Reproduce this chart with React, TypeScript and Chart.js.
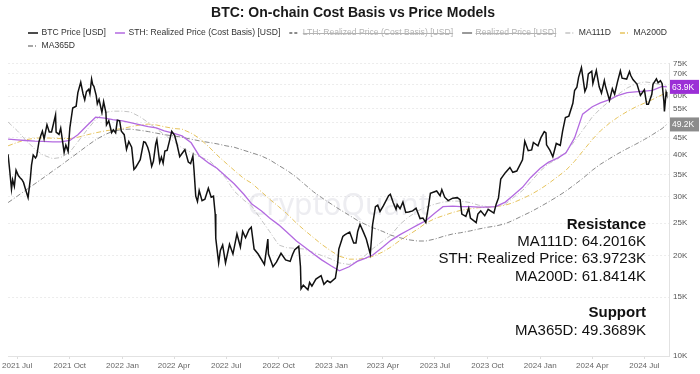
import { useEffect, useRef } from 'react';
import { Chart, registerables } from 'chart.js';

Chart.register(...registerables);

const FONT = '"Liberation Sans", Arial, Helvetica, sans-serif';
const TITLE = 'BTC: On-chain Cost Basis vs Price Models';
const WATERMARK = 'CryptoQuant';

// ---- BTC price (thousand USD) ----
const priceDates = [
  '2021-06-15','2021-06-18','2021-06-21','2021-06-23','2021-06-26','2021-06-29',
  '2021-07-03','2021-07-06','2021-07-09','2021-07-12','2021-07-15','2021-07-20','2021-07-24','2021-07-26','2021-07-29',
  '2021-08-02','2021-08-04','2021-08-08','2021-08-11','2021-08-14','2021-08-17','2021-08-22','2021-08-26','2021-08-30',
  '2021-09-06','2021-09-07','2021-09-12','2021-09-15','2021-09-21','2021-09-24','2021-09-28',
  '2021-10-01','2021-10-06','2021-10-12','2021-10-15','2021-10-20','2021-10-24','2021-10-27','2021-10-30',
  '2021-11-03','2021-11-05','2021-11-08','2021-11-10','2021-11-12','2021-11-16','2021-11-18','2021-11-21','2021-11-26','2021-11-29',
  '2021-12-03','2021-12-04','2021-12-08','2021-12-13','2021-12-16','2021-12-20','2021-12-23','2021-12-27','2021-12-30',
  '2022-01-04','2022-01-08','2022-01-12','2022-01-17','2022-01-21','2022-01-24','2022-01-28',
  '2022-02-01','2022-02-07','2022-02-10','2022-02-14','2022-02-17','2022-02-21','2022-02-24','2022-02-28',
  '2022-03-02','2022-03-07','2022-03-10','2022-03-13','2022-03-16','2022-03-20','2022-03-24','2022-03-28',
  '2022-04-02','2022-04-06','2022-04-11','2022-04-16','2022-04-20','2022-04-26','2022-04-30',
  '2022-05-04','2022-05-06','2022-05-09','2022-05-12','2022-05-15','2022-05-20','2022-05-25','2022-05-31',
  '2022-06-05','2022-06-09','2022-06-12','2022-06-13','2022-06-18','2022-06-21','2022-06-25','2022-06-30',
  '2022-07-07','2022-07-13','2022-07-20','2022-07-26','2022-07-30',
  '2022-08-04','2022-08-10','2022-08-14','2022-08-19','2022-08-26',
  '2022-09-06','2022-09-12','2022-09-13','2022-09-21','2022-09-27',
  '2022-10-05','2022-10-13','2022-10-21','2022-10-25','2022-10-29',
  '2022-11-05','2022-11-08','2022-11-09','2022-11-13','2022-11-21','2022-11-24','2022-11-28',
  '2022-12-05','2022-12-14','2022-12-19','2022-12-25','2022-12-30',
  '2023-01-08','2023-01-12','2023-01-14','2023-01-21','2023-01-25',
  '2023-02-02','2023-02-09','2023-02-13','2023-02-16','2023-02-20','2023-02-26',
  '2023-03-03','2023-03-10','2023-03-14','2023-03-19','2023-03-23','2023-03-27',
  '2023-04-02','2023-04-11','2023-04-14','2023-04-19','2023-04-24','2023-04-26',
  '2023-05-01','2023-05-06','2023-05-11','2023-05-16','2023-05-23','2023-05-29',
  '2023-06-05','2023-06-10','2023-06-15','2023-06-20','2023-06-23',
  '2023-07-04','2023-07-10','2023-07-13','2023-07-18','2023-07-24',
  '2023-08-01','2023-08-09','2023-08-14','2023-08-17','2023-08-24','2023-08-29',
  '2023-09-01','2023-09-11','2023-09-14','2023-09-19','2023-09-26',
  '2023-10-02','2023-10-12','2023-10-16','2023-10-20','2023-10-24',
  '2023-11-01','2023-11-09','2023-11-14','2023-11-21',
  '2023-12-01','2023-12-05','2023-12-11','2023-12-17','2023-12-20','2023-12-28',
  '2024-01-02','2024-01-08','2024-01-11','2024-01-12','2024-01-18','2024-01-23','2024-01-29',
  '2024-02-05','2024-02-09','2024-02-14','2024-02-20','2024-02-27',
  '2024-03-01','2024-03-05','2024-03-08','2024-03-13','2024-03-19','2024-03-22','2024-03-25','2024-03-31',
  '2024-04-02','2024-04-08','2024-04-13','2024-04-17','2024-04-22','2024-04-24',
  '2024-05-01','2024-05-06','2024-05-10','2024-05-15','2024-05-20','2024-05-23','2024-05-31',
  '2024-06-05','2024-06-07','2024-06-11','2024-06-18','2024-06-24',
  '2024-07-01','2024-07-05','2024-07-08','2024-07-14','2024-07-16','2024-07-22','2024-07-25','2024-07-29',
  '2024-08-01','2024-08-04','2024-08-05','2024-08-08','2024-08-09',
];
const priceValues = [
  40.2, 35.8, 31.6, 33.7, 32.2, 36.0,
  34.7, 34.2, 33.8, 33.1, 31.8, 29.8, 34.0, 37.3, 40.0,
  39.2, 39.7, 43.8, 45.6, 47.1, 44.7, 49.3, 46.9, 46.9,
  52.7, 46.8, 46.1, 48.1, 40.7, 42.8, 41.0,
  48.2, 55.3, 56.0, 61.5, 66.0, 61.0, 58.5, 61.9,
  62.9, 61.0, 67.5, 64.9, 64.2, 60.3, 56.9, 58.7, 53.6, 57.8,
  53.6, 49.2, 50.6, 46.7, 47.6, 46.6, 50.8, 50.6, 47.1,
  46.0, 41.6, 43.9, 42.2, 36.2, 36.7, 37.7,
  38.7, 43.8, 43.6, 42.2, 40.5, 37.0, 38.3, 43.2,
  44.4, 38.0, 39.4, 37.8, 41.1, 41.3, 44.0, 47.1,
  45.8, 43.2, 39.5, 40.6, 41.5, 38.1, 37.7,
  39.7, 36.0, 30.1, 29.0, 31.3, 29.2, 29.5, 31.8,
  29.9, 30.1, 26.6, 22.5, 19.0, 20.7, 21.5, 19.0,
  21.6, 20.2, 23.2, 21.2, 23.6,
  22.6, 23.9, 24.3, 20.9, 20.2,
  18.8, 22.4, 20.2, 18.5, 19.1,
  20.3, 19.4, 19.2, 20.1, 20.8,
  21.3, 18.5, 15.9, 16.3, 15.8, 16.6, 16.2,
  17.0, 17.4, 16.4, 16.8, 16.6,
  17.1, 18.9, 20.9, 22.8, 23.1,
  23.5, 21.8, 21.8, 23.6, 24.8, 23.5,
  22.4, 20.2, 24.7, 28.0, 28.3, 27.1,
  28.2, 30.2, 30.5, 28.8, 27.5, 28.4,
  27.6, 28.9, 26.9, 27.0, 27.2, 27.7,
  25.8, 25.9, 25.1, 28.3, 30.7,
  31.2, 30.2, 31.5, 29.9, 29.2,
  29.7, 29.8, 29.4, 26.6, 26.2, 27.7,
  25.9, 25.1, 26.6, 27.2, 26.3,
  27.5, 26.8, 28.5, 29.7, 33.9,
  35.4, 36.7, 35.5, 35.8,
  38.7, 44.0, 41.2, 41.4, 43.6, 42.6,
  45.0, 47.0, 46.6, 42.9, 41.3, 39.5, 43.3,
  42.7, 47.1, 51.8, 52.3, 57.1,
  62.4, 63.8, 68.3, 73.1, 62.0, 63.8, 70.0, 71.3,
  65.5, 71.6, 64.0, 61.3, 66.8, 64.3,
  58.3, 63.2, 60.8, 66.2, 71.4, 67.9, 67.5,
  71.1, 69.3, 67.3, 65.2, 60.3,
  62.7, 56.7, 56.7, 60.8, 65.1, 67.6, 65.8, 66.8,
  65.4, 58.1, 54.0, 61.7, 60.9,
];

// ---- cost basis / moving averages (thousand USD), sampled on maDates ----
const maDates = [
  '2021-06-15','2021-07-01','2021-07-15','2021-08-01','2021-08-15','2021-09-01','2021-09-15',
  '2021-10-01','2021-10-15','2021-11-01','2021-11-15','2021-12-01','2021-12-15',
  '2022-01-01','2022-01-15','2022-02-01','2022-02-15','2022-03-01','2022-03-15','2022-04-01','2022-04-15',
  '2022-05-01','2022-05-15','2022-06-01','2022-06-15','2022-07-01','2022-07-15','2022-08-01','2022-08-15',
  '2022-09-01','2022-09-15','2022-10-01','2022-10-15','2022-11-01','2022-11-15','2022-12-01','2022-12-15',
  '2023-01-01','2023-01-15','2023-02-01','2023-02-15','2023-03-01','2023-03-15','2023-04-01','2023-04-15',
  '2023-05-01','2023-05-15','2023-06-01','2023-06-15','2023-07-01','2023-07-15','2023-08-01','2023-08-15',
  '2023-09-01','2023-09-15','2023-10-01','2023-10-15','2023-11-01','2023-11-15','2023-12-01','2023-12-15',
  '2024-01-01','2024-01-15','2024-02-01','2024-02-15','2024-03-01','2024-03-15','2024-04-01','2024-04-15',
  '2024-05-01','2024-05-15','2024-06-01','2024-06-15','2024-07-01','2024-07-15','2024-08-01','2024-08-09',
];
const sthValues = [
  44.6, 44.4, 44.2, 44.0, 43.9, 43.8, 43.8, 44.2, 46.0, 49.2, 51.9, 51.6, 51.0,
  50.6, 50.0, 49.2, 48.6, 48.2, 47.2, 46.4, 45.6, 43.5, 39.8, 37.8, 36.5, 34.5, 32.8, 30.5, 28.5, 27.2, 25.9, 24.7, 23.5, 22.1, 21.2, 20.2, 19.4,
  18.6, 18.0, 18.5, 19.2, 19.6, 20.1, 21.2, 22.2, 23.1, 23.8, 24.7, 25.4, 26.8, 28.0, 28.1, 28.0, 28.0, 27.9, 27.9, 28.0, 28.9, 30.3, 32.0, 34.2,
  36.5, 38.0, 39.2, 40.6, 45.0, 53.0, 55.8, 57.3, 58.6, 60.2, 61.5, 61.8, 62.1, 62.4, 64.2, 63.97,
];
const lthValues: number[] = [];
const realizedValues: number[] = [];
const ma111Values = [
  50.2, 47.3, 44.5, 41.6, 40.0, 39.0, 39.3, 40.8, 43.8, 47.8, 51.0, 53.6, 54.1,
  54.1, 53.8, 52.0, 50.0, 48.0, 46.0, 43.8, 42.0, 40.7, 39.5, 38.6, 36.6, 34.0, 31.2, 29.3, 28.1, 25.5, 23.6, 21.5, 21.1, 21.0, 20.9, 20.4, 20.0,
  19.5, 19.0, 18.8, 19.2, 20.0, 21.0, 22.1, 23.0, 24.8, 26.0, 27.2, 27.9, 28.5, 28.9, 29.1, 29.1, 28.8, 28.3, 28.0, 28.0, 28.5, 29.8, 31.3, 33.2,
  35.8, 37.6, 39.0, 40.8, 44.0, 47.4, 52.0, 55.0, 58.0, 60.6, 63.5, 65.2, 66.2, 65.8, 64.8, 64.2016,
];
const ma200Values = [
  42.6, 43.6, 44.4, 44.9, 45.0, 44.9, 44.8, 44.8, 45.2, 46.0, 46.6, 47.2, 47.6,
  48.0, 48.6, 49.2, 49.5, 49.2, 48.6, 48.0, 47.8, 46.5, 44.9, 42.3, 40.0, 37.8, 36.0, 34.0, 32.9, 31.0, 29.5, 28.0, 26.7, 25.0, 23.8, 22.6, 21.6,
  20.6, 19.9, 19.5, 19.5, 19.6, 19.9, 20.5, 21.2, 22.2, 23.0, 24.0, 25.0, 25.8, 26.3, 26.9, 27.3, 27.6, 27.8, 27.9, 28.0, 28.3, 28.8, 29.6, 30.4,
  31.6, 32.8, 34.5, 36.0, 38.3, 41.0, 44.5, 47.2, 49.8, 51.8, 54.0, 55.6, 57.2, 58.6, 60.6, 61.8414,
];
const ma365Values = [
  28.8, 30.1, 31.3, 32.8, 34.1, 35.8, 37.2, 39.0, 40.6, 42.7, 44.4, 46.0, 47.1,
  47.7, 47.8, 47.4, 47.0, 46.5, 46.0, 45.6, 45.2, 44.6, 44.1, 43.6, 43.2, 42.6, 42.2, 41.3, 40.6, 39.7, 38.7, 37.2, 36.0, 34.3, 32.7, 31.0, 29.8,
  28.5, 27.5, 26.4, 25.5, 24.8, 24.2, 23.6, 23.0, 22.6, 22.3, 22.1, 22.1, 22.4, 22.8, 23.2, 23.4, 23.7, 24.0, 24.3, 24.5, 24.9, 25.5, 26.3, 27.0,
  28.0, 28.9, 30.1, 31.2, 32.6, 34.0, 36.0, 37.5, 39.0, 40.3, 41.8, 43.0, 44.5, 46.0, 48.0, 49.3689,
];

// ---- axes ----
const yTicks = [10, 15, 20, 25, 30, 35, 40, 45, 50, 55, 60, 65, 70, 75];
const xTickDates = [
  '2021-07-01','2021-10-01','2022-01-01','2022-04-01','2022-07-01','2022-10-01','2023-01-01',
  '2023-04-01','2023-07-01','2023-10-01','2024-01-01','2024-04-01','2024-07-01',
];
const X_START = '2021-06-15';
const X_END = '2024-08-13';
const MONTHS = ['Jan','Feb','Mar','Apr','May','Jun','Jul','Aug','Sep','Oct','Nov','Dec'];

// ---- right-edge value tags & annotation text ----
const tagTexts = ['63.9K', '49.2K'];
const tagColors = ['#9b2fd6', '#8c8c8c'];
const resistanceTitle = 'Resistance';
const resistanceLines = ['MA111D: 64.2016K', 'STH: Realized Price: 63.9723K', 'MA200D: 61.8414K'];
const supportTitle = 'Support';
const supportLines = ['MA365D: 49.3689K'];

const toDay = (s: string) =>
  Date.UTC(+s.slice(0, 4), +s.slice(5, 7) - 1, +s.slice(8, 10)) / 86400000;

const pts = (dates: string[], vals: number[]) =>
  vals.map((v, i) => ({ x: toDay(dates[i]), y: v }));

const overlayPlugin = {
  id: 'overlay',
  beforeDatasetsDraw(chart: any) {
    const { ctx, chartArea } = chart;
    ctx.save();
    ctx.font = `30px "Noto Sans", ${FONT}`;
    ctx.fillStyle = 'rgba(175,175,190,0.22)';
    ctx.textAlign = 'center';
    ctx.textBaseline = 'middle';
    ctx.fillText(WATERMARK, (chartArea.left + chartArea.right) / 2, (chartArea.top + chartArea.bottom) / 2 - 3);
    ctx.restore();
  },
  afterDraw(chart: any) {
    const { ctx, chartArea, scales } = chart;
    ctx.save();

    // legend
    ctx.font = `8.6px ${FONT}`;
    ctx.textBaseline = 'middle';
    ctx.textAlign = 'left';
    let lx = 28;
    let ly = 33;
    chart.data.datasets.forEach((ds: any, i: number) => {
      const hidden = !chart.isDatasetVisible(i);
      const tw = ctx.measureText(ds.label).width;
      const w = 13.5 + tw;
      if (lx + w > chart.width - 4) {
        lx = 28;
        ly += 13;
      }
      ctx.beginPath();
      ctx.setLineDash(ds.borderDash || []);
      ctx.strokeStyle = ds.borderColor;
      ctx.lineWidth = 1.5;
      ctx.moveTo(lx, ly);
      ctx.lineTo(lx + 10, ly);
      ctx.stroke();
      ctx.setLineDash([]);
      ctx.fillStyle = hidden ? '#b3b3b3' : '#333';
      ctx.fillText(ds.label, lx + 13.5, ly);
      if (hidden) {
        ctx.beginPath();
        ctx.strokeStyle = '#b3b3b3';
        ctx.lineWidth = 1;
        ctx.moveTo(lx + 13.5, ly + 0.5);
        ctx.lineTo(lx + 13.5 + tw, ly + 0.5);
        ctx.stroke();
      }
      lx += w + 9;
    });

    // last-value tags
    const y = scales.y;
    const tagValues = [sthValues[sthValues.length - 1], ma365Values[ma365Values.length - 1]];
    ctx.font = `8.5px ${FONT}`;
    tagValues.forEach((v, i) => {
      const py = y.getPixelForValue(v);
      ctx.fillStyle = tagColors[i];
      ctx.fillRect(chartArea.right + 1, py - 7, 29, 14);
      ctx.fillStyle = '#fff';
      ctx.textAlign = 'left';
      ctx.fillText(tagTexts[i], chartArea.right + 3, py + 0.5);
    });

    // annotation block
    const rx = chartArea.right - 23;
    ctx.textAlign = 'right';
    ctx.fillStyle = '#111';
    ctx.font = `bold 15px ${FONT}`;
    ctx.fillText(resistanceTitle, rx, chartArea.top + 161);
    ctx.font = `15px ${FONT}`;
    resistanceLines.forEach((t, i) => ctx.fillText(t, rx, chartArea.top + 178 + i * 17.5));
    ctx.font = `bold 15px ${FONT}`;
    ctx.fillText(supportTitle, rx, chartArea.top + 249);
    ctx.font = `15px ${FONT}`;
    supportLines.forEach((t, i) => ctx.fillText(t, rx, chartArea.top + 267 + i * 17.5));
    ctx.restore();
  },
};

const DASH_DOT = [5, 2, 1, 2];

export default function App() {
  const ref = useRef<HTMLCanvasElement>(null);
  useEffect(() => {
    if (!ref.current) return;
    Chart.defaults.font.family = FONT;
    const line = (label: string, data: any[], color: string, width: number, dash: number[] = [], hidden = false) => ({
      label,
      data,
      borderColor: color,
      backgroundColor: color,
      borderWidth: width,
      borderDash: dash,
      pointRadius: 0,
      tension: 0,
      fill: false,
      hidden,
    });
    const chart = new Chart(ref.current, {
      type: 'line',
      data: {
        datasets: [
          line('BTC Price [USD]', pts(priceDates, priceValues), '#111111', 1.5),
          line('STH: Realized Price (Cost Basis) [USD]', pts(maDates, sthValues), '#b36ae0', 1.3),
          line('LTH: Realized Price (Cost Basis) [USD]', pts(maDates, lthValues), '#666666', 1, [3, 2], true),
          line('Realized Price [USD]', pts(maDates, realizedValues), '#777777', 1, [], true),
          line('MA111D', pts(maDates, ma111Values), '#c4c4c4', 1, DASH_DOT),
          line('MA200D', pts(maDates, ma200Values), '#e6c35c', 1, DASH_DOT),
          line('MA365D', pts(maDates, ma365Values), '#8a8a8a', 1, DASH_DOT),
        ],
      },
      options: {
        animation: false,
        responsive: true,
        maintainAspectRatio: false,
        devicePixelRatio: 1,
        layout: { padding: { left: 6, right: 0, top: 0, bottom: 1.4 } },
        plugins: {
          legend: { display: false },
          tooltip: { enabled: false },
          title: {
            display: true,
            text: TITLE,
            color: '#1a1a1a',
            font: { size: 14, weight: 'bold', family: FONT },
            padding: { top: 5, bottom: 42 },
          },
        },
        scales: {
          x: {
            type: 'linear',
            min: toDay(X_START),
            max: toDay(X_END),
            afterBuildTicks: (s: any) => {
              s.ticks = xTickDates.map((d) => ({ value: toDay(d) }));
            },
            ticks: {
              autoSkip: false,
              maxRotation: 0,
              padding: 2,
              color: '#666',
              font: { size: 8, family: FONT },
              callback: (v: any) => {
                const d = new Date(Number(v) * 86400000);
                return `${d.getUTCFullYear()} ${MONTHS[d.getUTCMonth()]}`;
              },
            },
            grid: { drawOnChartArea: false, drawTicks: true, tickLength: 3, color: '#dddddd' },
            border: { display: true, color: '#e2e2e2' },
          },
          y: {
            type: 'logarithmic',
            position: 'right',
            min: 10,
            max: 75,
            afterBuildTicks: (s: any) => {
              s.ticks = yTicks.map((v) => ({ value: v }));
            },
            afterFit: (s: any) => {
              s.width = 31;
            },
            ticks: {
              autoSkip: false,
              padding: 4,
              color: '#555',
              font: { size: 8, family: FONT },
              callback: (v: any) => `${v}K`,
            },
            grid: { drawTicks: false, color: '#ececec' },
            border: { display: true, color: '#e2e2e2', dash: [2, 2] },
          },
        },
      },
      plugins: [overlayPlugin],
    } as any);
    return () => chart.destroy();
  }, []);
  return (
    <div style={{ position: 'absolute', left: 0, top: 0, width: 700, height: 374, background: '#fff' }}>
      <canvas ref={ref} />
    </div>
  );
}
